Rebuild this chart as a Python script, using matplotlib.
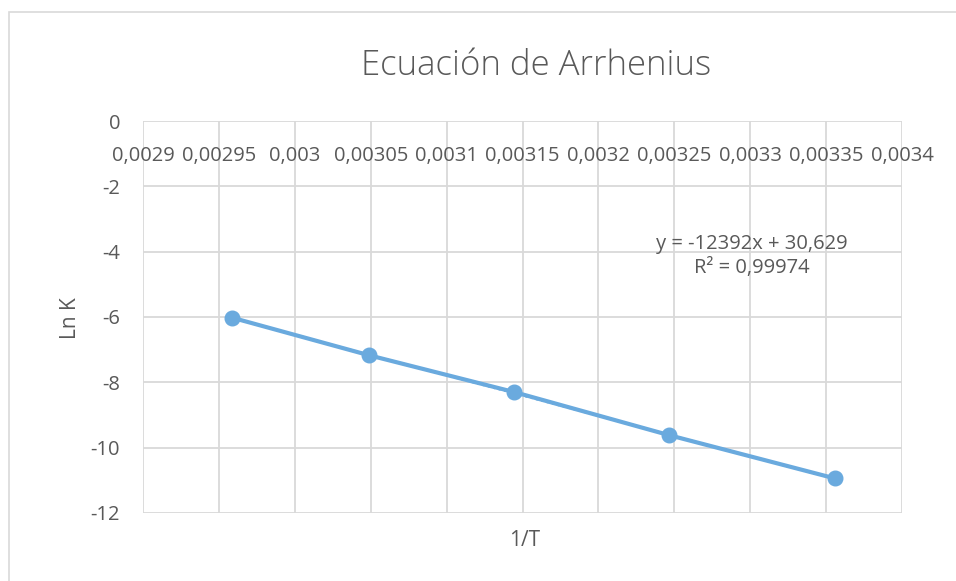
import matplotlib
matplotlib.use("Agg")
import matplotlib.pyplot as plt
from matplotlib.patches import Rectangle
import numpy as np

# Data
inv_T = [0.0029586, 0.0030488, 0.0031447, 0.0032468, 0.0033557]
ln_K = [-6.02, -7.17, -8.30, -9.62, -10.94]
slope = -12392
intercept = 30.629
eq_text = "y = -12392x + 30,629"
r2_text = "R² = 0,99974"
x_ticks = [0.0029, 0.00295, 0.003, 0.00305, 0.0031, 0.00315, 0.0032, 0.00325, 0.0033, 0.00335, 0.0034]
x_tick_labels = ["0,0029", "0,00295", "0,003", "0,00305", "0,0031", "0,00315", "0,0032", "0,00325", "0,0033", "0,00335", "0,0034"]
y_ticks = [0, -2, -4, -6, -8, -10, -12]
y_tick_labels = ["0", "-2", "-4", "-6", "-8", "-10", "-12"]
title = "Ecuación de Arrhenius"
xlabel = "1/T"
ylabel = "Ln K"

plt.rcParams['font.family'] = ['Open Sans', 'DejaVu Sans']
text_color = '#595959'
grid_color = '#d9d9d9'
blue = '#6aaade'

fig = plt.figure(figsize=(9.56, 5.81), dpi=100)
# chart frame
fig.add_artist(Rectangle((9/956, -0.1), 1.2, 1 - 12/581 + 0.1, transform=fig.transFigure,
                         fill=False, edgecolor='#d9d9d9', linewidth=1.2))

ax = fig.add_axes([143/956, 1 - 513/581, (902 - 143)/956, (513 - 121)/581])
ax.set_xlim(0.0029, 0.0034)
ax.set_ylim(-12, 0)
ax.set_xticks(x_ticks)
ax.set_yticks(y_ticks)
ax.set_yticklabels(y_tick_labels)
ax.set_xticklabels([])
ax.tick_params(axis='both', length=0)
ax.tick_params(axis='y', pad=16.5, labelsize=14.5, labelcolor=text_color)
ax.grid(True, color=grid_color, linewidth=1.3)
ax.set_axisbelow(True)
for s in ax.spines.values():
    s.set_visible(False)

for t, lab in zip(x_ticks, x_tick_labels):
    ax.annotate(lab, xy=(t, 0), xycoords='data', xytext=(0, -25), textcoords='offset points',
                ha='center', va='center', fontsize=14.5, color=text_color)

# data series
ax.plot(inv_T, ln_K, color=blue, linewidth=3, marker='o', markersize=10.5, zorder=3)
# trendline
xs = np.array([min(inv_T), max(inv_T)])
ax.plot(xs, slope * xs + intercept, color=blue, linewidth=1.5, linestyle=':', zorder=4)

fig.text(752/956, 1 - 244/581, eq_text, ha='center', va='center',
         fontsize=14.5, color=text_color)
fig.text(752/956, 1 - 268/581, r2_text, ha='center', va='center',
         fontsize=14.5, color=text_color)

fig.text(536/956, 1 - 66/581, title, ha='center', va='center', fontsize=25,
         fontweight='light', color=text_color)
fig.text(525/956, 1 - 541/581, xlabel, ha='center', va='center', fontsize=15, color=text_color)
fig.text(70/956, 1 - 318/581, ylabel, ha='center', va='center', fontsize=15, color=text_color,
         rotation=90)

fig.savefig("out.png", dpi=100)
